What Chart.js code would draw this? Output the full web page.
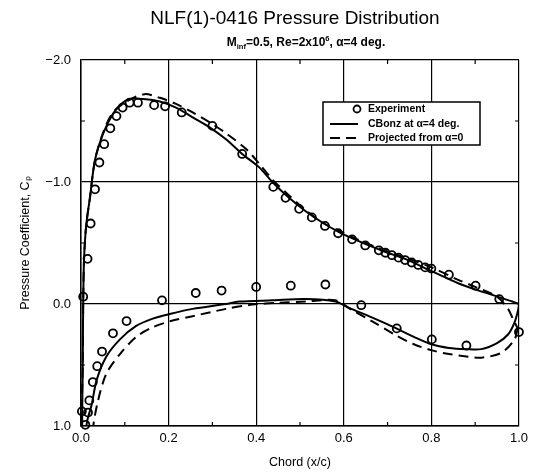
<!DOCTYPE html>
<html><head><meta charset="utf-8">
<script src="https://cdn.jsdelivr.net/npm/chart.js@4"></script>
<style>html,body{margin:0;padding:0;background:#fff}#wrap{width:533px;height:472px}</style>
</head><body><div id="wrap"><canvas id="c" width="533" height="472"></canvas></div>
<script>
// ---- data ----
const expX = [0.005,0.015,0.022,0.032,0.042,0.053,0.067,0.081,0.095,0.111,0.130,0.167,0.192,0.230,0.300,0.368,0.439,0.467,0.498,0.527,0.557,0.587,0.619,0.649,0.680,0.695,0.710,0.725,0.740,0.755,0.770,0.786,0.800,0.840,0.901,0.955,
  0.002,0.010,0.016,0.019,0.027,0.037,0.048,0.073,0.104,0.185,0.262,0.321,0.400,0.479,0.558,0.640,0.721,0.801,0.880,1.000];
const expCp = [-0.06,-0.37,-0.66,-0.94,-1.16,-1.31,-1.44,-1.54,-1.61,-1.65,-1.65,-1.63,-1.62,-1.57,-1.46,-1.23,-0.96,-0.87,-0.78,-0.71,-0.64,-0.58,-0.53,-0.48,-0.44,-0.42,-0.40,-0.38,-0.36,-0.34,-0.32,-0.30,-0.29,-0.24,-0.15,-0.04,
  0.88,0.99,0.89,0.79,0.64,0.51,0.39,0.24,0.14,-0.03,-0.09,-0.11,-0.14,-0.15,-0.16,0.01,0.20,0.29,0.34,0.23];

const cbonzX = [1.000,0.998,0.990,0.975,0.950,0.914,0.880,0.840,0.800,0.760,0.720,0.664,0.611,0.581,0.513,0.437,0.361,0.331,0.255,0.205,0.164,0.126,0.089,0.058,0.036,0.024,0.014,0.008,
  0.003,0.004,0.005,0.007,0.012,0.020,0.032,0.051,0.073,0.092,0.111,0.142,0.180,0.217,0.255,0.293,0.331,0.368,0.407,0.437,0.475,0.513,0.550,0.589,0.625,0.664,0.700,0.740,0.800,0.861,0.900,0.960,0.985,1.000];
const cbonzCp = [0.00,0.05,0.15,0.25,0.32,0.37,0.37,0.36,0.33,0.27,0.20,0.11,0.03,-0.02,-0.04,-0.03,-0.02,0.00,0.04,0.08,0.12,0.18,0.29,0.43,0.62,0.83,0.96,1.12,
  1.12,0.50,0.00,-0.37,-0.65,-0.86,-1.18,-1.40,-1.56,-1.64,-1.68,-1.68,-1.66,-1.61,-1.53,-1.45,-1.35,-1.23,-1.12,-1.00,-0.87,-0.76,-0.67,-0.59,-0.53,-0.47,-0.42,-0.37,-0.27,-0.17,-0.12,-0.05,-0.02,0.00];

const projX = [0.997,0.990,0.960,0.914,0.880,0.840,0.801,0.760,0.721,0.664,0.619,0.580,0.513,0.450,0.392,0.331,0.255,0.205,0.164,0.126,0.089,0.058,0.039,0.028,0.024,
  0.003,0.004,0.005,0.007,0.012,0.020,0.032,0.051,0.073,0.104,0.145,0.180,0.217,0.255,0.293,0.331,0.377,0.407,0.437,0.475,0.513,0.550,0.589,0.625,0.664,0.700,0.740,0.800,0.860,0.900,0.950,0.975,0.986,0.997];
const projCp = [0.20,0.29,0.40,0.44,0.43,0.41,0.38,0.33,0.26,0.14,0.05,-0.03,-0.02,-0.01,0.005,0.04,0.10,0.14,0.19,0.27,0.41,0.57,0.79,1.00,1.20,
  1.20,0.50,0.00,-0.37,-0.65,-0.86,-1.18,-1.41,-1.57,-1.66,-1.72,-1.69,-1.64,-1.57,-1.49,-1.40,-1.27,-1.15,-1.02,-0.89,-0.77,-0.67,-0.60,-0.54,-0.48,-0.43,-0.38,-0.30,-0.20,-0.14,-0.06,0.04,0.12,0.20];

const xTicks = [0, 0.2, 0.4, 0.6, 0.8, 1.0];
const xTickLabels = ['0.0','0.2','0.4','0.6','0.8','1.0'];
const xMinorTicks = [0.1, 0.3, 0.5, 0.7, 0.9];
const yTicks = [-2, -1, 0, 1];
const yTickLabels = ['\u22122.0','\u22121.0','0.0','1.0'];
const yMinorTicks = [-1.5, -0.5, 0.5];

const titleText = 'NLF(1)-0416 Pressure Distribution';
const legendLabels = ['Experiment', 'CBonz at \u03b1=4 deg.', 'Projected from \u03b1=0'];

const zip = (xs, ys) => xs.map((x, i) => ({x: x, y: ys[i]}));
const FONT = '"Liberation Sans", Arial, Helvetica, sans-serif';
Chart.defaults.font.family = FONT;
Chart.defaults.color = '#000';

const decor = {
  id: 'decor',
  afterDatasetsDraw(chart) {
    const ctx = chart.ctx;
    const ca = chart.chartArea;
    const xs = chart.scales.x, ys = chart.scales.y;
    ctx.save();
    // minor ticks (inward)
    ctx.strokeStyle = '#000'; ctx.lineWidth = 1.2;
    ctx.beginPath();
    xMinorTicks.forEach(v => {
      const p = xs.getPixelForValue(v);
      ctx.moveTo(p, ca.bottom); ctx.lineTo(p, ca.bottom - 4);
      ctx.moveTo(p, ca.top); ctx.lineTo(p, ca.top + 4);
    });
    yMinorTicks.forEach(v => {
      const p = ys.getPixelForValue(v);
      ctx.moveTo(ca.left, p); ctx.lineTo(ca.left + 4, p);
      ctx.moveTo(ca.right, p); ctx.lineTo(ca.right - 4, p);
    });
    ctx.stroke();
    // legend box
    const lx = 323, ly = 102, lw = 157, lh = 43;
    ctx.fillStyle = '#fff';
    ctx.fillRect(lx, ly, lw, lh);
    ctx.lineWidth = 1.5; ctx.strokeStyle = '#000';
    ctx.strokeRect(lx, ly, lw, lh);
    ctx.fillStyle = '#000';
    ctx.font = 'bold 10.5px ' + FONT;
    ctx.textBaseline = 'middle'; ctx.textAlign = 'left';
    const rows = [ly + 7, ly + 22, ly + 36];
    // marker
    ctx.beginPath(); ctx.lineWidth = 1.8;
    ctx.arc(357, rows[0], 3.5, 0, Math.PI * 2); ctx.stroke();
    ctx.lineWidth = 2;
    ctx.beginPath(); ctx.moveTo(330, rows[1]); ctx.lineTo(358, rows[1]); ctx.stroke();
    ctx.setLineDash([10, 6]);
    ctx.beginPath(); ctx.moveTo(330, rows[2]); ctx.lineTo(358, rows[2]); ctx.stroke();
    ctx.setLineDash([]);
    legendLabels.forEach((t, i) => ctx.fillText(t, 368, rows[i] + 0.5));
    ctx.restore();
  },
  afterDraw(chart) {
    const ctx = chart.ctx;
    ctx.save();
    ctx.fillStyle = '#000';
    ctx.textBaseline = 'alphabetic';
    ctx.textAlign = 'center';
    ctx.font = '19px ' + FONT;
    ctx.fillText(titleText, 295, 24);
    // subtitle with subscript / superscript
    const segs = [
      {t: 'M', f: 'bold 12px ', dy: 0},
      {t: 'inf', f: 'bold 7.5px ', dy: 2.5},
      {t: '=0.5, Re=2x10', f: 'bold 12px ', dy: 0},
      {t: '6', f: 'bold 7.5px ', dy: -5},
      {t: ', \u03b1=4 deg.', f: 'bold 12px ', dy: 0}
    ];
    let w = 0;
    segs.forEach(s => { ctx.font = s.f + FONT; s.w = ctx.measureText(s.t).width; w += s.w; });
    let x = 306 - w / 2;
    ctx.textAlign = 'left';
    segs.forEach(s => { ctx.font = s.f + FONT; ctx.fillText(s.t, x, 46 + s.dy); x += s.w; });
    ctx.restore();
  }
};

new Chart(document.getElementById('c'), {
  type: 'scatter',
  data: {
    datasets: [
      {label: legendLabels[0], data: zip(expX, expCp), showLine: false, pointStyle: 'circle', pointRadius: 4,
       pointBorderWidth: 1.8, borderColor: '#000', backgroundColor: 'rgba(255,255,255,0)', clip: false},
      {label: legendLabels[1], data: zip(cbonzX, cbonzCp), showLine: true, pointRadius: 0, borderColor: '#000',
       borderWidth: 2, tension: 0.3, fill: false},
      {label: legendLabels[2], data: zip(projX, projCp), showLine: true, pointRadius: 0, borderColor: '#000',
       borderWidth: 2, borderDash: [10, 6], tension: 0.3, fill: false}
    ]
  },
  options: {
    responsive: false,
    animation: false,
    devicePixelRatio: 1,
    layout: {padding: {top: 60, right: 12, left: 0, bottom: 0}},
    plugins: {legend: {display: false}, tooltip: {enabled: false}, title: {display: false}},
    scales: {
      x: {
        type: 'linear', min: 0, max: 1,
        afterBuildTicks: s => { s.ticks = xTicks.map(v => ({value: v})); },
        afterFit: s => { s.height = 46; },
        ticks: {padding: 5, font: {size: 13}, color: '#000', callback: (v, i) => xTickLabels[i]},
        grid: {color: '#000', lineWidth: 1.2, drawTicks: false, tickLength: 0},
        border: {color: '#000', width: 1.5},
        title: {display: true, text: 'Chord (x/c)', font: {size: 12.5}, color: '#000', padding: {top: 0, bottom: 2}}
      },
      y: {
        type: 'linear', min: -2, max: 1, reverse: true,
        afterBuildTicks: s => { s.ticks = yTicks.map(v => ({value: v})); },
        afterFit: s => { s.width = 81; },
        ticks: {padding: 10, font: {size: 13}, color: '#000', callback: (v, i) => yTickLabels[i]},
        grid: {color: '#000', lineWidth: 1.2, drawTicks: false, tickLength: 0},
        border: {color: '#000', width: 1.5},
        title: {display: true, text: 'Pressure Coefficient, C\u209a', font: {size: 12.5}, color: '#000', padding: {top: 18, bottom: 0}}
      }
    }
  },
  plugins: [decor]
});
</script>
</body></html>
